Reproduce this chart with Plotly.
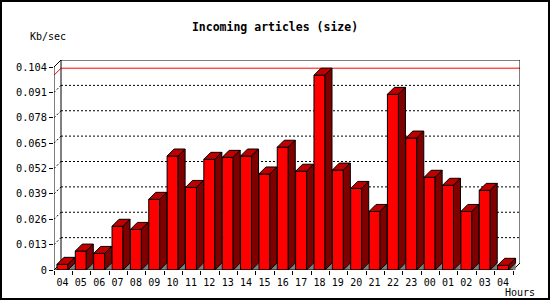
import plotly.graph_objects as go

# ---- data ----
hours = ["04", "05", "06", "07", "08", "09", "10", "11", "12", "13", "14", "15", "16",
         "17", "18", "19", "20", "21", "22", "23", "00", "01", "02", "03", "04"]
kb_per_sec = [0.0029, 0.0097, 0.0085, 0.0224, 0.0208, 0.0362, 0.0584, 0.0423, 0.0567,
              0.0577, 0.0584, 0.0492, 0.0629, 0.0506, 0.0998, 0.0512, 0.0418, 0.0300,
              0.0900, 0.0676, 0.0475, 0.0434, 0.0300, 0.0408, 0.0024]
y_ticks = [0, 0.013, 0.026, 0.039, 0.052, 0.065, 0.078, 0.091, 0.104]
y_tick_labels = ["0", "0.013", "0.026", "0.039", "0.052", "0.065", "0.078", "0.091", "0.104"]
title_text = "Incoming articles (size)"
y_title = "Kb/sec"
x_title = "Hours"

# ---- geometry ----
W, H = 550, 300
L, R, T, B = 54, 30, 60, 30
DEPTH = 7
pw, ph = W - L - R, H - T - B
n = len(hours)
slot = (pw - DEPTH) / n
dx = DEPTH / slot
ytop = y_ticks[-1]
ppu = (ph - DEPTH) / ytop
dy = DEPTH / ppu
ymax = ph / ppu
BX0, BX1 = 0.16, 0.76
vmax = max(kb_per_sec)

FONT = "DejaVu Sans Mono"

def px_x(p):
    return (p - L) / pw

def px_y(p):
    return (H - B - p) / ph

front_x, front_y, top_x, top_y, side_x, side_y, sh_x, sh_y = ([] for _ in range(8))
for i, v in enumerate(kb_per_sec):
    x0, x1 = i + BX0, i + BX1
    front_x += [x0, x0, x1, x1, x0, None]
    front_y += [0, v, v, 0, 0, None]
    top_x += [x0, x0 + dx, x1 + dx, x1, x0, None]
    top_y += [v, v + dy, v + dy, v, v, None]
    side_x += [x1, x1, x1 + dx, x1 + dx, x1, None]
    side_y += [0, v, v + dy, dy, 0, None]
    sh_x += [x1, x1 + dx, x1 + dx, x1, None]
    sh_y += [0, dy, 0, 0, None]

fig = go.Figure()
def poly(xs, ys, fill, lw=1):
    fig.add_trace(go.Scatter(x=xs, y=ys, mode="lines", fill="toself", fillcolor=fill,
                             line=dict(color="black" if lw else fill, width=lw if lw else 0.1),
                             hoverinfo="skip", showlegend=False))

poly(sh_x, sh_y, "#808080", 0)
poly(front_x, front_y, "#FF0000")
poly(top_x, top_y, "#C00000")
poly(side_x, side_y, "#800000")

shapes = []
def line(x0, y0, x1, y1, color="black", dash="solid", layer="below"):
    shapes.append(dict(type="line", x0=x0, y0=y0, x1=x1, y1=y1, layer=layer,
                       xref="x", yref="y", line=dict(color=color, width=1, dash=dash)))

# gridlines on back wall and left wall (dotted)
for v in y_ticks[1:-1]:
    line(dx, v + dy, n + dx, v + dy, dash="2px,2px")
    line(0, v, dx, v + dy, dash="2px,2px")
# max line (red)
line(dx, vmax + dy, n + dx, vmax + dy, color="#FF0000")
line(0, vmax, dx, vmax + dy, color="#FF0000")
# frame of the 3D box
line(0, 0, 0, ytop)                     # front y axis
line(0, ytop, dx, ytop + dy)            # top-left diagonal
line(dx, dy, dx, ytop + dy)             # back-left vertical
line(dx, ytop + dy, n + dx, ytop + dy)  # back top
line(n + dx, dy, n + dx, ytop + dy)     # back right
line(0, 0, n, 0, layer="above")         # front baseline
line(0, 0, dx, dy)                      # bottom-left diagonal
line(n, 0, n + dx, dy)                  # bottom-right diagonal

# outer border of the image
shapes.append(dict(type="rect", xref="paper", yref="paper",
                   x0=px_x(1), x1=px_x(549), y0=px_y(299), y1=px_y(1),
                   line=dict(color="black", width=2), layer="below"))

fig.update_layout(
    width=W, height=H,
    margin=dict(l=L, r=R, t=T, b=B),
    paper_bgcolor="white", plot_bgcolor="white",
    shapes=shapes,
    title=dict(text="<b>" + title_text + "</b>", x=0.5, xref="container", xanchor="center",
               y=1 - 27 / H, yref="container", yanchor="middle",
               font=dict(family=FONT, size=11.5, color="black")),
    xaxis=dict(range=[0, n + dx], showgrid=False, zeroline=False, showline=False,
               tickvals=[i + (BX0 + BX1) / 2 for i in range(n)], ticktext=hours,
               ticks="outside", ticklen=3, tickcolor="rgba(0,0,0,0)",
               tickfont=dict(family=FONT, size=10, color="black"),
               minor=dict(tick0=0, dtick=1, ticks="outside", ticklen=4,
                          tickcolor="black", tickwidth=1, showgrid=False),
               fixedrange=True),
    yaxis=dict(range=[0, ymax], showgrid=False, zeroline=False, showline=False,
               tickvals=y_ticks, ticktext=y_tick_labels, ticks="outside", ticklen=4,
               tickcolor="black", tickwidth=1,
               tickfont=dict(family=FONT, size=10.3, color="black"), fixedrange=True),
    annotations=[
        dict(text=y_title, xref="paper", yref="paper", x=px_x(47.5), y=px_y(37),
             xanchor="center", yanchor="middle", showarrow=False,
             font=dict(family=FONT, size=10, color="black")),
        dict(text=x_title, xref="paper", yref="paper", x=px_x(520), y=px_y(292.5),
             xanchor="center", yanchor="middle", showarrow=False,
             font=dict(family=FONT, size=10, color="black")),
    ],
    showlegend=False,
)

fig.write_html("out.html")
